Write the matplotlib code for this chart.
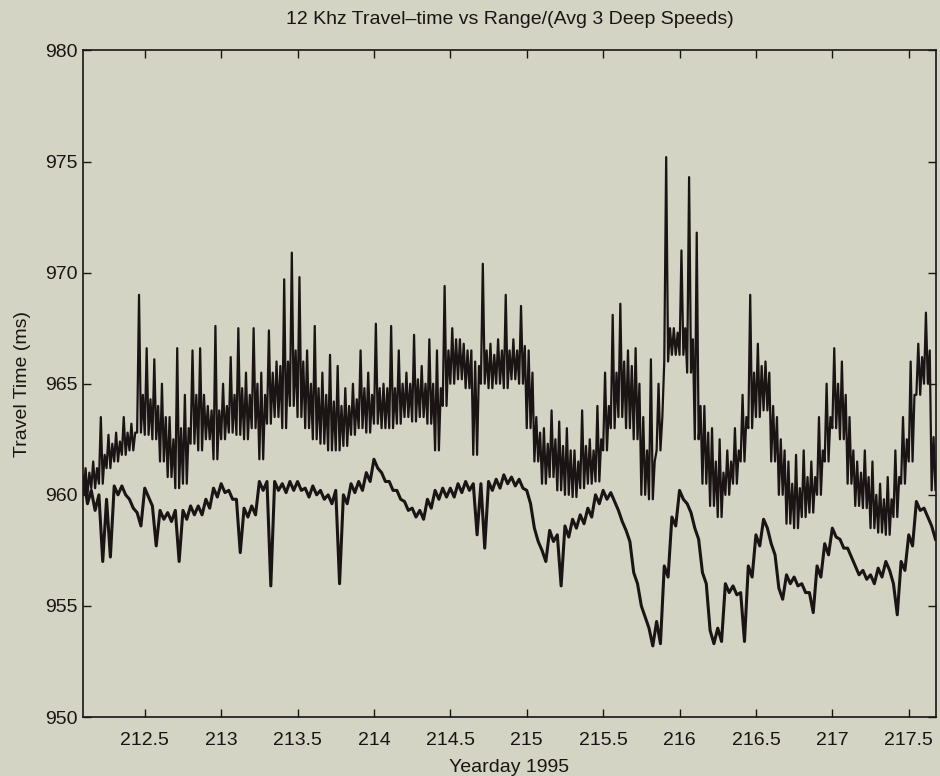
import matplotlib.pyplot as plt
from matplotlib.ticker import FuncFormatter

days = [212.10 + 0.05 * i for i in range(112)]

# upper trace: travel time vs range / avg of 3 deep speeds (ms)
# lo = bottom of the noise band, core = top of the dense band, hi = spike tops
upper_hi = [961.2, 961.5, 963.5, 962.7, 962.8, 963.5, 963.2, 969.0, 966.6, 966.1,
            965.0, 963.5, 966.6, 964.5, 966.5, 966.6, 964.0, 967.6, 965.0, 966.2,
            967.5, 965.5, 967.5, 965.5, 967.4, 966.0, 969.7, 970.9, 969.8, 966.5,
            967.6, 965.5, 966.3, 965.8, 964.8, 965.0, 966.5, 965.5, 967.7, 965.0,
            967.6, 966.5, 965.5, 967.2, 965.8, 967.0, 966.5, 969.4, 967.5, 967.0,
            966.5, 966.0, 970.4, 966.8, 967.0, 969.0, 967.0, 968.5, 966.5, 963.5,
            963.0, 963.8, 963.3, 963.0, 962.0, 963.8, 962.5, 964.0, 965.5, 968.1,
            968.6, 966.5, 966.6, 963.5, 966.1, 965.0, 975.2, 967.5, 971.0, 974.3,
            971.8, 964.0, 963.0, 962.5, 962.0, 963.0, 964.5, 969.0, 966.8, 966.0,
            964.0, 962.5, 961.5, 961.8, 962.0, 961.5, 963.5, 965.0, 966.6, 966.0,
            963.5, 961.5, 962.0, 961.5, 960.5, 960.8, 962.0, 963.5, 966.0, 966.8,
            968.2, 962.6]
upper_core = [961.0, 961.2, 961.8, 962.3, 962.4, 962.8, 962.8, 964.5, 964.3, 964.0,
              963.5, 962.5, 963.0, 963.0, 964.5, 964.5, 963.8, 963.8, 964.0, 964.5,
              964.8, 964.5, 965.0, 964.5, 965.5, 965.8, 966.0, 966.5, 966.0, 965.0,
              964.8, 964.5, 964.2, 964.0, 964.0, 964.3, 964.8, 964.5, 964.8, 964.8,
              964.8, 965.0, 965.0, 965.2, 965.0, 965.0, 964.8, 966.5, 967.0, 966.8,
              966.5, 965.8, 966.5, 966.3, 966.5, 966.5, 966.5, 966.7, 965.5, 962.8,
              962.3, 962.5, 962.2, 962.0, 961.5, 962.2, 962.0, 962.5, 964.0, 965.5,
              966.0, 965.8, 965.0, 962.0, 961.5, 963.5, 967.5, 967.3, 967.5, 967.0,
              964.0, 962.8, 961.5, 961.0, 961.5, 962.0, 963.5, 965.5, 965.8, 965.5,
              963.5, 962.0, 960.5, 960.3, 960.8, 960.8, 962.0, 963.5, 965.0, 964.5,
              962.0, 961.0, 960.8, 960.0, 959.8, 959.8, 960.8, 962.5, 964.5, 966.2,
              966.5, 961.8]
upper_lo = [960.0, 960.3, 960.5, 961.2, 961.5, 961.8, 962.0, 962.8, 962.7, 962.5,
            961.5, 960.8, 960.3, 960.5, 962.3, 962.0, 962.5, 961.6, 962.5, 962.8,
            962.7, 962.5, 963.0, 961.6, 963.2, 963.5, 963.0, 964.0, 963.5, 963.0,
            962.5, 962.3, 962.0, 962.0, 962.2, 962.7, 963.0, 962.8, 963.2, 963.0,
            963.0, 963.2, 963.5, 963.3, 963.5, 963.2, 962.0, 964.0, 965.0, 965.2,
            964.8, 961.8, 965.0, 964.8, 965.0, 964.8, 965.2, 965.0, 963.0, 961.5,
            960.5, 960.8, 960.2, 960.0, 959.9, 960.3, 960.5, 960.6, 962.0, 963.0,
            963.5, 963.0, 962.5, 960.0, 959.8, 962.0, 966.0, 966.3, 966.3, 965.5,
            962.5, 960.5, 959.5, 959.0, 960.0, 960.5, 961.5, 963.0, 963.5, 963.8,
            961.5, 960.0, 958.7, 958.5, 959.0, 959.2, 960.0, 961.5, 963.0, 962.5,
            960.5, 959.5, 959.4, 958.5, 958.3, 958.2, 959.0, 960.5, 961.5, 964.5,
            965.0, 960.2]

# lower trace (ms): level of the line and the lowest dip in each step
lower = [960.8, 960.2, 960.0, 959.8, 960.4, 960.4, 959.8, 959.2, 960.3, 959.5,
         959.3, 959.2, 959.3, 959.3, 959.5, 959.5, 959.8, 960.3, 960.5, 960.2,
         959.8, 959.4, 959.5, 960.6, 960.6, 960.6, 960.5, 960.6, 960.6, 960.3,
         960.4, 960.2, 960.0, 960.2, 960.0, 960.5, 960.6, 961.0, 961.6, 961.0,
         960.6, 960.2, 959.7, 959.4, 959.3, 959.8, 960.2, 960.3, 960.3, 960.5,
         960.6, 960.5, 960.5, 960.6, 960.7, 960.9, 960.8, 960.7, 960.2, 958.5,
         957.5, 958.4, 958.2, 958.6, 958.9, 959.1, 959.4, 960.0, 960.2, 960.1,
         959.3, 958.4, 956.5, 955.0, 954.0, 954.3, 956.8, 959.0, 960.2, 959.6,
         958.5, 956.5, 953.9, 954.0, 956.0, 955.9, 955.6, 956.8, 958.2, 958.9,
         957.8, 955.8, 956.4, 956.3, 956.0, 955.6, 956.8, 957.8, 958.5, 958.0,
         957.6, 956.8, 956.6, 956.4, 956.7, 957.0, 956.0, 957.0, 958.2, 959.7,
         959.4, 958.6]
lower_dip = [959.6, 959.3, 957.0, 957.2, 960.0, 960.0, 959.4, 958.6, 959.9, 957.7,
             958.9, 958.8, 957.0, 958.9, 959.1, 959.1, 959.4, 959.9, 960.1, 959.8,
             957.4, 959.0, 959.1, 960.2, 955.9, 960.2, 960.1, 960.2, 960.2, 959.9,
             960.0, 959.8, 959.6, 956.0, 959.6, 960.1, 960.2, 960.6, 961.2, 960.6,
             960.2, 959.8, 959.3, 959.0, 958.9, 959.4, 959.8, 959.9, 959.9, 960.1,
             960.2, 958.2, 957.6, 960.2, 960.3, 960.5, 960.4, 960.3, 959.6, 957.9,
             957.0, 957.9, 955.9, 958.1, 958.5, 958.7, 959.0, 959.6, 959.8, 959.7,
             958.8, 957.9, 956.0, 954.5, 953.2, 953.3, 956.3, 958.6, 959.8, 959.2,
             958.0, 956.0, 953.3, 953.4, 955.6, 955.5, 953.4, 956.3, 957.7, 958.5,
             957.3, 955.3, 956.0, 955.9, 955.6, 954.7, 956.3, 957.3, 958.1, 957.6,
             957.2, 956.4, 956.2, 956.0, 956.3, 956.6, 954.6, 956.6, 957.7, 959.3,
             959.0, 958.0]

xticks = [212.5, 213, 213.5, 214, 214.5, 215, 215.5, 216, 216.5, 217, 217.5]
yticks = [950, 955, 960, 965, 970, 975, 980]


def trace(*bands):
    # walk through the band readings of each step, spread across the step
    xs, ys = [], []
    k = len(bands)
    for i, d in enumerate(days):
        for j, b in enumerate(bands):
            xs.append(d + 0.05 * j / k)
            ys.append(b[i])
    return xs, ys


bg = '#d3d4c4'
ink = '#1b1414'
plt.rcParams['font.family'] = ['Liberation Sans', 'DejaVu Sans']

fig = plt.figure(figsize=(9.4, 7.76), dpi=100, facecolor=bg)
ax = fig.add_axes([0.088, 0.076, 0.908, 0.859], facecolor=bg)

# upper trace: spikes and dense band
ux, uy = trace(upper_lo, upper_hi, upper_lo, upper_core)
ax.plot(ux, uy, color=ink, lw=1.6)

# lower trace
lx, ly = trace(lower, lower_dip)
ax.plot(lx, ly, color=ink, lw=2.2)

ax.set_xlim(212.094, 217.68)
ax.set_ylim(950, 980)
ax.set_xticks(xticks)
ax.set_yticks(yticks)
ax.xaxis.set_major_formatter(FuncFormatter(lambda v, p: '%g' % v))
ax.tick_params(axis='x', pad=11)
ax.tick_params(direction='in', top=True, right=True, length=6, width=1,
               labelsize=14, colors=ink)
for s in ax.spines.values():
    s.set_color(ink)
    s.set_linewidth(1.2)

ax.set_title('12 Khz Travel\u2013time vs Range/(Avg 3 Deep Speeds)', fontsize=14,
             color=ink, pad=19)
ax.set_xlabel('Yearday 1995', fontsize=14, color=ink, labelpad=7)
ax.set_ylabel('Travel Time (ms)', fontsize=14, color=ink, labelpad=10)

fig.savefig('out.png', dpi=100, facecolor=bg)
